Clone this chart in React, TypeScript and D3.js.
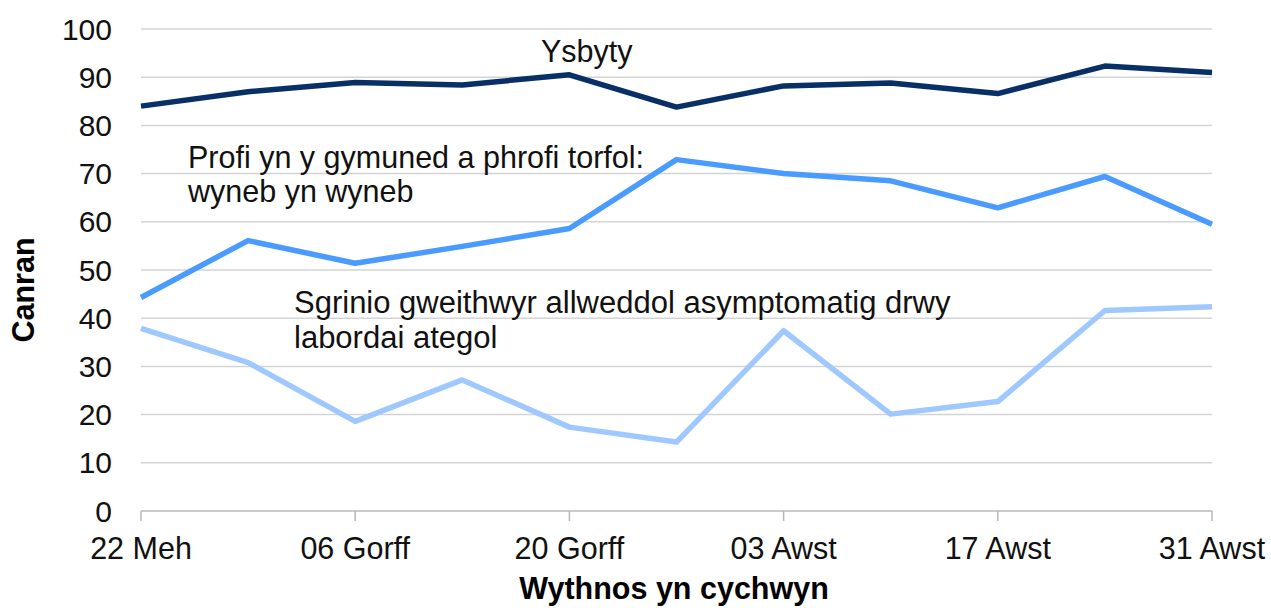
import React from "react";
import * as d3 from "d3";

const weeks = ["22 Meh", "29 Meh", "06 Gorff", "13 Gorff", "20 Gorff", "27 Gorff", "03 Awst", "10 Awst", "17 Awst", "24 Awst", "31 Awst"];
const tickWeeks = ["22 Meh", "06 Gorff", "20 Gorff", "03 Awst", "17 Awst", "31 Awst"];
const hospital = [84.0, 87.0, 88.9, 88.4, 90.5, 83.8, 88.2, 88.8, 86.6, 92.3, 91.0];
const community = [44.3, 56.1, 51.4, 54.9, 58.6, 72.9, 70.0, 68.5, 62.9, 69.4, 59.5];
const screening = [37.9, 30.8, 18.6, 27.2, 17.4, 14.3, 37.4, 20.1, 22.7, 41.6, 42.4];
const yTicks = [0, 10, 20, 30, 40, 50, 60, 70, 80, 90, 100];

const W = 1271;
const H = 608;
const left = 141;
const right = 1212;
const top = 29;
const bottom = 511;
const FONT = "'Liberation Sans', Arial, sans-serif";

export default function App() {
  const x = d3.scalePoint<string>().domain(weeks).range([left, right]);
  const y = d3.scaleLinear().domain([0, 100]).range([bottom, top]);
  const line = d3
    .line<number>()
    .x((_, i) => x(weeks[i]) as number)
    .y((d) => y(d));

  const series = [
    { data: screening, color: "#9fc8ff" },
    { data: community, color: "#4a9bff" },
    { data: hospital, color: "#082f66" },
  ];

  return (
    <svg
      width={W}
      height={H}
      style={{ position: "absolute", left: 0, top: 0, background: "#fff" }}
      fontFamily={FONT}
    >
      {yTicks.map((t) =>
        t === 0 ? null : (
          <line key={"g" + t} x1={left} x2={right} y1={y(t)} y2={y(t)} stroke="#d4d4d4" strokeWidth={1.5} />
        )
      )}
      <line x1={left} x2={right} y1={y(0)} y2={y(0)} stroke="#b8b8b8" strokeWidth={1.5} />
      {tickWeeks.map((w) => (
        <line key={"t" + w} x1={x(w)} x2={x(w)} y1={y(0)} y2={y(0) + 10} stroke="#b8b8b8" strokeWidth={1.5} />
      ))}
      {yTicks.map((t) => (
        <text key={"yl" + t} x={112} y={y(t) + 10.5} textAnchor="end" fontSize={30} fill="#111">
          {t}
        </text>
      ))}
      {tickWeeks.map((w) => (
        <text key={"xl" + w} x={x(w)} y={559} textAnchor="middle" fontSize={30.5} fill="#111">
          {w}
        </text>
      ))}
      {series.map((s, i) => (
        <path
          key={"s" + i}
          d={line(s.data) || ""}
          fill="none"
          stroke={s.color}
          strokeWidth={5.5}
          strokeLinejoin="round"
        />
      ))}
      <text x={541} y={62} fontSize={30.5} fill="#111">Ysbyty</text>
      <text x={188} y={168} fontSize={30.5} fill="#111">Profi yn y gymuned a phrofi torfol:</text>
      <text x={188} y={202} fontSize={30.5} fill="#111">wyneb yn wyneb</text>
      <text x={294} y={313} fontSize={31} fill="#111">Sgrinio gweithwyr allweddol asymptomatig drwy</text>
      <text x={294} y={348} fontSize={31} fill="#111">labordai ategol</text>
      <text x={674} y={599} textAnchor="middle" fontSize={30.5} fontWeight="bold" fill="#000">
        Wythnos yn cychwyn
      </text>
      <text
        transform={`translate(34, 290) rotate(-90)`}
        textAnchor="middle"
        fontSize={30.5}
        fontWeight="bold"
        fill="#000"
      >
        Canran
      </text>
    </svg>
  );
}
